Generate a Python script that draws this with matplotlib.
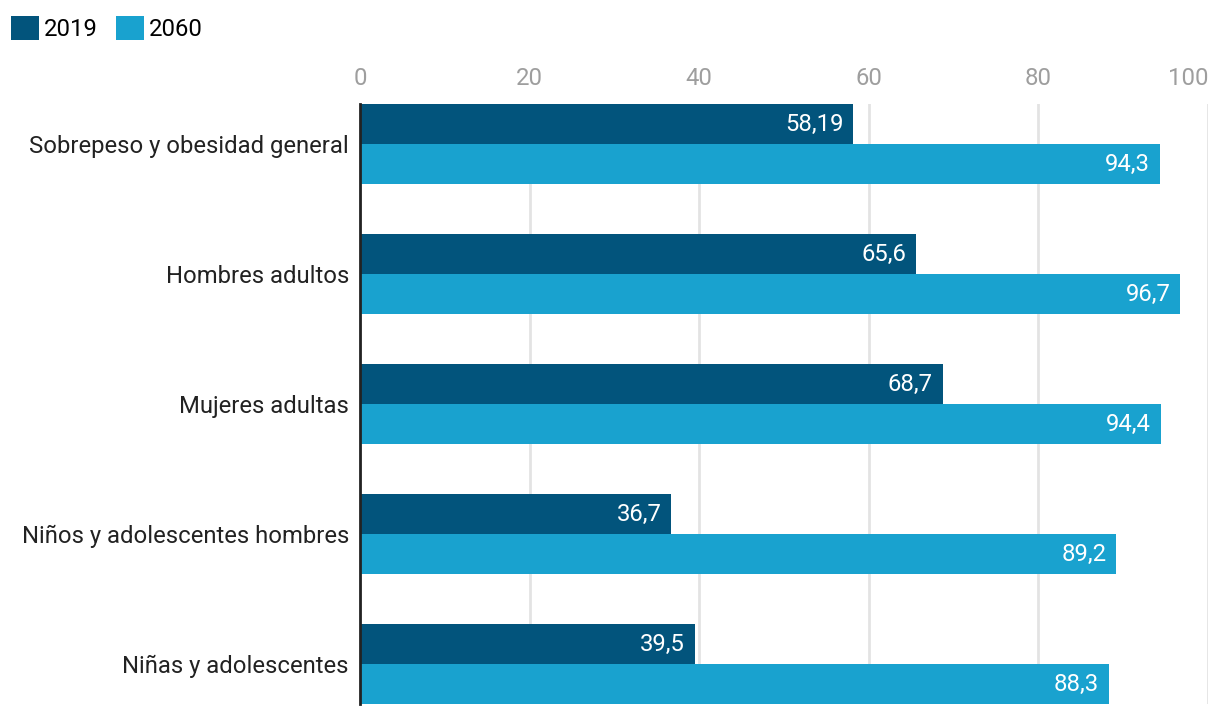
import matplotlib.pyplot as plt
import numpy as np

categories = [
    "Sobrepeso y obesidad general",
    "Hombres adultos",
    "Mujeres adultas",
    "Niños y adolescentes hombres",
    "Niñas y adolescentes",
]
values_2019 = [58.19, 65.6, 68.7, 36.7, 39.5]
values_2060 = [94.3, 96.7, 94.4, 89.2, 88.3]
x_ticks = [0, 20, 40, 60, 80, 100]

DARK = "#02547c"
LIGHT = "#19a2cf"

plt.rcParams['font.family'] = ['Roboto', 'DejaVu Sans']

fig = plt.figure(figsize=(12.2, 7.16), dpi=100)
W, H = 1220, 716
ax = fig.add_axes([360 / W, 12 / H, 848 / W, 600 / H])

bar_h = 40 / 130
y = np.arange(len(categories))
b1 = ax.barh(y - bar_h / 2, values_2019, height=bar_h, color=DARK, label="2019", zorder=2)
b2 = ax.barh(y + bar_h / 2, values_2060, height=bar_h, color=LIGHT, label="2060", zorder=2)

for bars, vals in ((b1, values_2019), (b2, values_2060)):
    for bar, v in zip(bars, vals):
        ax.annotate(str(v).replace('.', ','),
                    xy=(bar.get_width(), bar.get_y() + bar.get_height() / 2),
                    xytext=(-7, 0), textcoords='offset points',
                    ha='right', va='center', color='white', fontsize=17.2, zorder=3)

ax.set_xlim(0, 100)
ax.set_ylim(len(categories) - 1 + bar_h, -bar_h)
ax.set_yticks(y)
ax.set_yticklabels(categories, fontsize=17.2, color='#222222')
ax.xaxis.tick_top()
ax.tick_params(axis='both', length=0)
ax.tick_params(axis='x', pad=10)
ax.tick_params(axis='y', pad=8)
ax.set_xticks(x_ticks)
ax.set_xticklabels([str(t) for t in x_ticks], fontsize=17.2, color='#9e9e9e')

ax.grid(axis='x', color='#e3e3e3', linewidth=2, zorder=0)
ax.set_axisbelow(True)
for s in ['top', 'right', 'bottom']:
    ax.spines[s].set_visible(False)
ax.spines['left'].set_color('#222222')
ax.spines['left'].set_linewidth(2)
ax.spines['left'].set_zorder(4)

fig.legend(handles=[b1, b2], loc='upper left', bbox_to_anchor=(1 / W, 1 - 6 / H),
           ncol=2, frameon=False, fontsize=17.2, handlelength=1.2, handleheight=1.2,
           handletextpad=0.2, columnspacing=0.75, borderaxespad=0)

# last tick label sits right-aligned on its gridline, as in the source chart
fig.canvas.draw()
ax.xaxis.get_major_ticks()[-1].label2.set_horizontalalignment('right')

fig.savefig("out.png", dpi=100)
